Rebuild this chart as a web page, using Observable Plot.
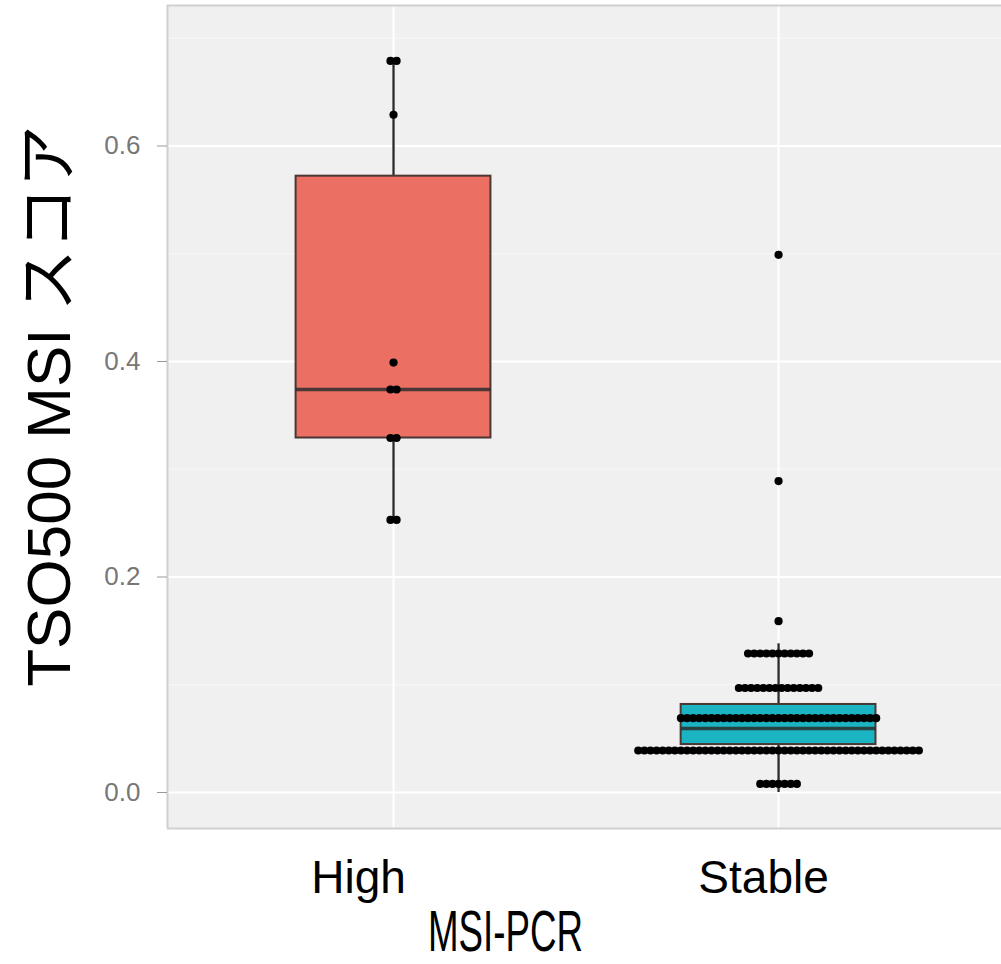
<!DOCTYPE html>
<html><head><meta charset="utf-8">
<script src="https://cdn.jsdelivr.net/npm/d3@7"></script>
<script src="https://cdn.jsdelivr.net/npm/@observablehq/plot@0.6"></script>
<style>body{margin:0;background:#fff;} svg{display:block}</style>
</head><body><div id="chart"></div>
<script>
// ---- data ----
const groups = ["High", "Stable"];
const boxQ1 = [0.329, 0.0445];
const boxMedian = [0.374, 0.0594];
const boxQ3 = [0.572, 0.0817];
const whiskerLow = [0.253, 0.0];
const whiskerHigh = [0.679, 0.138];
const boxColors = ["#ec6f64", "#1bb4c3"];
const highDotValues = [0.679, 0.629, 0.399, 0.374, 0.329, 0.253];
const highDotCounts = [2, 1, 1, 2, 2, 2];
const stableDotValues = [0.499, 0.289, 0.159, 0.129, 0.097, 0.069, 0.039, 0.008];
const stableDotCounts = [1, 1, 1, 11, 14, 33, 47, 7];
const yTicks = [0, 0.2, 0.4, 0.6];
const yMinorTicks = [0.1, 0.3, 0.5, 0.7];
const yLabel = "TSO500 MSI スコア";
const xLabel = "MSI-PCR";

// ---- layout ----
const W = 1001, H = 964;
const mLeft = 167, mRight = 0, mTop = 5, mBottom = 136;
const xDomain = [-0.587, 1.579];
const yDomain = [-0.0334, 0.7304];
const pxPerUnit = (W - mLeft - mRight) / (xDomain[1] - xDomain[0]);
const dotStep = 6.1 / pxPerUnit;
const halfBox = 0.253;

const boxes = groups.map((name, i) => ({
  i, name, q1: boxQ1[i], med: boxMedian[i], q3: boxQ3[i],
  lo: whiskerLow[i], hi: whiskerHigh[i], color: boxColors[i]
}));

const dotRows = [
  {g: 0, values: highDotValues, counts: highDotCounts},
  {g: 1, values: stableDotValues, counts: stableDotCounts}
];
const dots = [];
for (const row of dotRows) {
  row.values.forEach((v, j) => {
    const n = row.counts[j];
    for (let k = 0; k < n; k++) dots.push({g: row.g, value: v, x: row.g + (k - (n - 1) / 2) * dotStep});
  });
}

const font = "'Liberation Sans', Arial, 'Noto Sans CJK JP', sans-serif";

const chart = Plot.plot({
  width: W, height: H,
  marginLeft: mLeft, marginRight: mRight, marginTop: mTop, marginBottom: mBottom,
  style: {fontFamily: font, background: "white"},
  x: {type: "linear", domain: xDomain, axis: null},
  y: {domain: yDomain, axis: null},
  marks: [
    Plot.frame({fill: "#f0f0f0", stroke: "none"}),
    Plot.ruleY(yMinorTicks, {stroke: "#f8f8f8", strokeWidth: 1.2}),
    Plot.ruleY(yTicks, {stroke: "white", strokeWidth: 2}),
    Plot.ruleX(boxes, {x: "i", stroke: "white", strokeWidth: 2}),
    Plot.ruleX([xDomain[0]], {stroke: "#d0d0d0", strokeWidth: 2}),
    Plot.ruleY(yDomain, {stroke: "#d0d0d0", strokeWidth: 2}),
    Plot.ruleX(boxes, {x: "i", y1: "q3", y2: "hi", stroke: "#2a2a2a", strokeWidth: 2.3}),
    Plot.ruleX(boxes, {x: "i", y1: "lo", y2: "q1", stroke: "#2a2a2a", strokeWidth: 2.3}),
    Plot.rect(boxes, {x1: d => d.i - halfBox, x2: d => d.i + halfBox, y1: "q1", y2: "q3", fill: "color", stroke: "#4a3633", strokeWidth: 2}),
    Plot.ruleY(boxes, {x1: d => d.i - halfBox, x2: d => d.i + halfBox, y: "med", stroke: "#2e2e2e", strokeWidth: 3.4, strokeOpacity: 0.85}),
    Plot.dot(dots, {x: "x", y: "value", r: 4.1, fill: "black", stroke: "none"}),
    Plot.axisY({ticks: yTicks, tickFormat: d3.format(".1f"), tickSize: 10, tickPadding: 17, fontSize: 26, stroke: "#9a9a9a", fill: "#777", label: null}),
    Plot.axisX({ticks: [0], tickFormat: i => groups[i], tickSize: 0, tickPadding: 32, fontSize: 46, fill: "black", dx: -35, label: null}),
    Plot.axisX({ticks: [1], tickFormat: i => groups[i], tickSize: 0, tickPadding: 32, fontSize: 46, fill: "black", dx: -15, label: null}),
    Plot.text([yLabel], {text: d => d, frameAnchor: "left", dx: -117, dy: -11, rotate: -90, fontSize: 62, lineAnchor: "middle", textAnchor: "middle", fill: "black"}),
    Plot.text([xLabel], {text: d => d, frameAnchor: "bottom", dx: -79, dy: 104, fontSize: 58, lineAnchor: "middle", textAnchor: "middle", fill: "black"})
  ]
});

d3.select(chart).selectAll("text").filter(function() { return this.textContent === xLabel; })
  .attr("textLength", 155).attr("lengthAdjust", "spacingAndGlyphs");

document.getElementById("chart").appendChild(chart);
</script>
</body></html>
